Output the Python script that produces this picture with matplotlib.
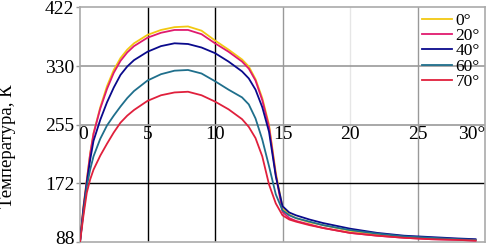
import matplotlib
matplotlib.use('Agg')
import matplotlib.pyplot as plt
from matplotlib.transforms import ScaledTranslation

# time axis and temperatures (K)
t = [0, 0.25, 0.5, 0.75, 1, 1.5, 2, 2.5, 3, 3.5, 4, 5, 6, 7, 8, 9, 10, 11, 12, 12.5, 13, 13.5,
     14, 14.5, 15, 15.5, 16, 17, 18, 20, 22, 24, 26, 28, 29.3]

temp_0 = [88, 138, 176, 214, 243, 280, 310, 333, 350, 362, 371, 383, 390, 394, 395, 389, 375, 362, 348, 338, 320, 293,
          255, 187, 137, 127, 122, 116, 112, 104, 99, 95, 93, 92, 91]
temp_20 = [88, 137, 175, 213, 242, 278, 306, 329, 346, 358, 367, 379, 386, 390, 390, 384, 371, 359, 345, 335, 318, 290,
           252, 184, 131, 122, 118, 113, 108, 101, 97, 94, 92, 91, 90]
temp_40 = [88, 134, 172, 205, 232, 262, 287, 308, 326, 338, 347, 359, 367, 371, 370, 365, 357, 345, 331, 321, 305, 280,
           245, 182, 139, 130, 126, 120, 115, 107, 101, 97, 95, 93, 92]
temp_60 = [88, 130, 167, 191, 210, 235, 254, 268, 281, 293, 303, 318, 327, 332, 333, 328, 317, 305, 294, 284, 264, 234,
           196, 156, 133, 126, 122, 117, 112, 105, 100, 96, 94, 92, 91]
temp_70 = [88, 125, 158, 177, 191, 211, 228, 244, 258, 268, 276, 289, 297, 301, 302, 297, 288, 277, 263, 252, 236, 210,
           170, 143, 126, 120, 117, 112, 108, 101, 97, 94, 92, 91, 90]

labels = ['0°', '20°', '40°', '60°', '70°']
colors = ['#f2c811', '#e01a6e', '#0a0a8c', '#1f6f8c', '#e0203c']

x_ticks = [0, 5, 10, 15, 20, 25, 30]
x_tick_labels = ['0', '5', '10', '15', '20', '25', '30°']
y_ticks = [88, 171.5, 255, 338.5, 422]
y_tick_labels = ['88', '172', '255', '330', '422']

plt.rcParams['font.family'] = ['Liberation Serif', 'DejaVu Serif']

fig = plt.figure(figsize=(4.93, 2.48), dpi=100)
ax = fig.add_axes([0.1623, 0.0242, 0.8215, 0.9456])

# grid lines (the scan shows a mix of dark and grey ones)
vgrid_col = ['#000000', '#000000', '#999999', '#e6e6e6', '#999999']
for xv, c in zip(x_ticks[1:-1], vgrid_col):
    ax.axvline(xv, color=c, lw=1.0, zorder=1)
hgrid_col = ['#000000', '#999999', '#999999']
for yv, c in zip(y_ticks[1:-1], hgrid_col):
    ax.axhline(yv, color=c, lw=1.2 if c != '#000000' else 1.0, zorder=1)

series = [temp_0, temp_20, temp_40, temp_60, temp_70]
for vals, lab, col in zip(series, labels, colors):
    ax.plot(t, vals, color=col, lw=1.3, label=lab, zorder=3)

ax.set_xlim(0, 30)
ax.set_ylim(88, 422)
ax.set_xticks([])
ax.set_yticks(y_ticks)
ax.set_yticklabels(y_tick_labels, fontsize=14)
ax.tick_params(axis='y', length=3, width=1, color='#999999', pad=1)
for sp in ax.spines.values():
    sp.set_color('#aaaaaa')
    sp.set_linewidth(1.2)

# lift the bottom label a little so it is not clipped
lab88 = ax.get_yticklabels()[0]
lab88.set_transform(lab88.get_transform() + ScaledTranslation(0, 3 / 72, fig.dpi_scale_trans))

# x tick labels sit just under the 255 line
for xv, lab in zip(x_ticks, x_tick_labels):
    if xv == 30:
        ax.text(xv, 253, lab, ha='right', va='top', fontsize=14)
    elif xv == 0:
        ax.text(xv + 0.25, 253, lab, ha='center', va='top', fontsize=14)
    else:
        ax.text(xv, 253, lab, ha='center', va='top', fontsize=14)

ax.set_ylabel('Температура, К', fontsize=13.5)
ax.yaxis.set_label_coords(-0.158, 0.41)

ax.legend(loc='upper right', frameon=False, fontsize=12.5, handlelength=1.7,
          handletextpad=0.2, labelspacing=-0.05, borderaxespad=0.1,
          borderpad=0.2)

fig.savefig('out.png', dpi=100)
